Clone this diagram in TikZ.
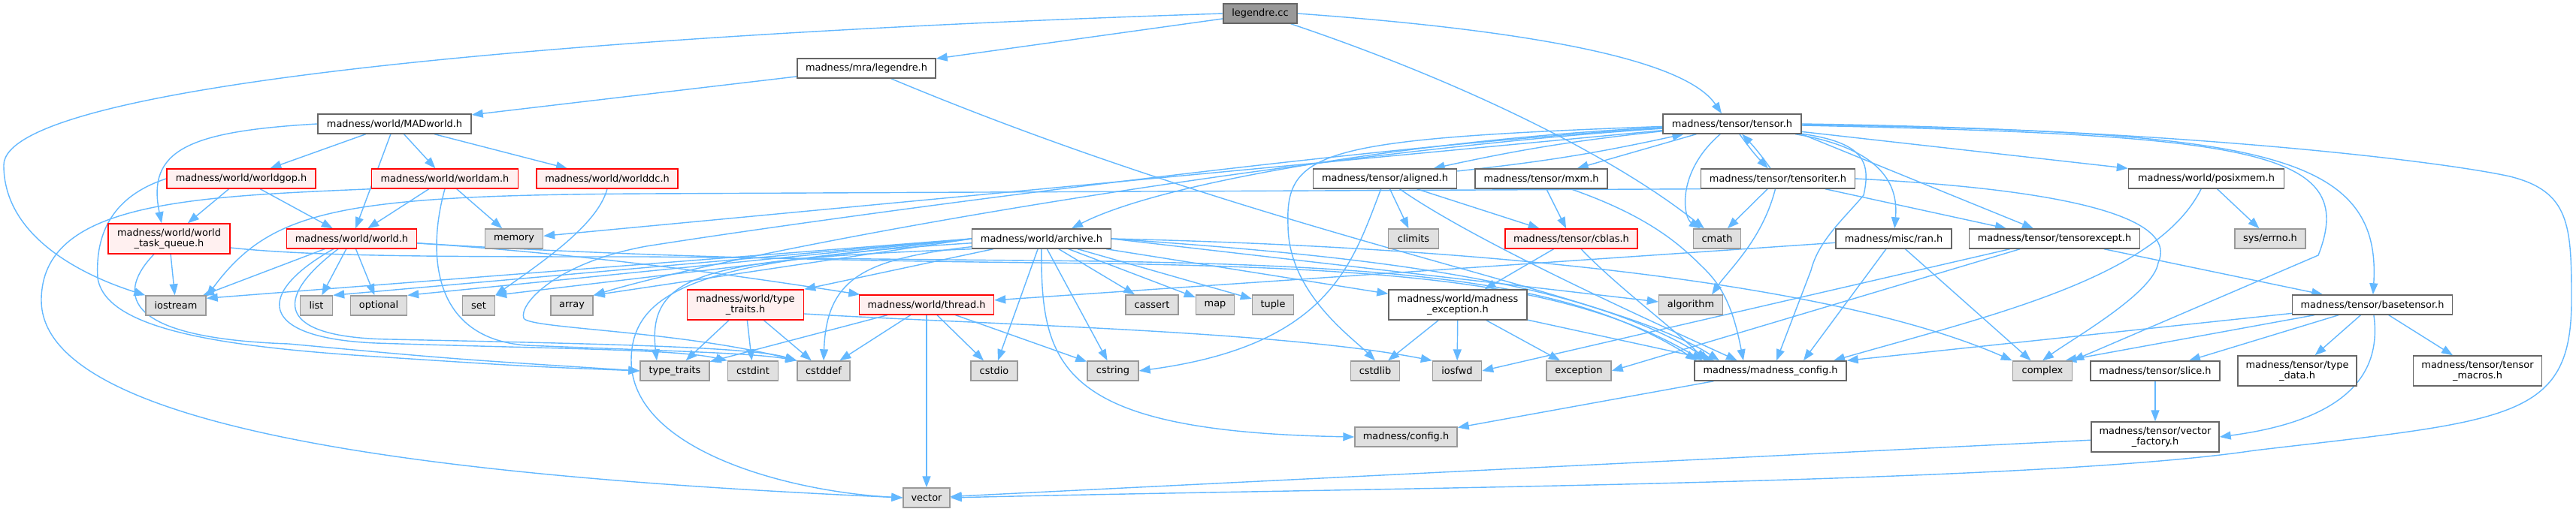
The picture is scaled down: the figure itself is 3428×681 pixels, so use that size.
\documentclass[tikz,border=0pt]{standalone}
\usepackage{fontspec}
\newfontfamily\nf{DejaVu Sans}
\usetikzlibrary{arrows.meta}
\definecolor{edgec}{HTML}{63B8FF}
\definecolor{gfill}{HTML}{E0E0E0}
\definecolor{gline}{HTML}{999999}
\definecolor{wline}{HTML}{666666}
\definecolor{rfill}{HTML}{FFF0F0}
\definecolor{rline}{HTML}{FF0000}
\definecolor{dfill}{HTML}{999999}
\pgfdeclarelayer{bg}
\pgfsetlayers{bg,main}
\begin{document}
\begin{tikzpicture}[x=0.5pt,y=-0.5pt,
  nbox/.style={rectangle, inner sep=0pt, minimum height=13pt, line width=0.7pt, align=center, font=\nf\fontsize{6.45}{7.2}\selectfont},
  wb/.style={nbox, draw=wline, fill=white},
  gb/.style={nbox, draw=gline, fill=gfill},
  rb/.style={nbox, draw=rline, fill=rfill},
  db/.style={nbox, draw=wline, fill=dfill},
  twol/.style={minimum height=20pt},
  edg/.style={draw=edgec, line width=0.7pt, -{Triangle[length=7.5pt,width=5.5pt]}}
]
\useasboundingbox (0,0) rectangle (3428,681);
% nodes
\node[db, minimum width=49pt] (lcc) at (1677,18) {legendre.cc};
\node[wb, minimum width=92pt] (leg) at (1153,91) {madness/mra/legendre.h};
\node[wb, minimum width=102pt] (mad) at (525,165) {madness/world/MADworld.h};
\node[wb, minimum width=92pt] (ten) at (2305,165) {madness/tensor/tensor.h};
\node[rb, minimum width=99pt] (gop) at (321,238) {madness/world/worldgop.h};
\node[rb, minimum width=97.5pt] (wam) at (592,238) {madness/world/worldam.h};
\node[rb, minimum width=94pt] (wdc) at (808,238) {madness/world/worlddc.h};
\node[wb, minimum width=95.5pt] (ali) at (1843,238) {madness/tensor/aligned.h};
\node[wb, minimum width=88pt] (mxm) at (2051,238) {madness/tensor/mxm.h};
\node[wb, minimum width=102.5pt] (tit) at (2366,238) {madness/tensor/tensoriter.h};
\node[wb, minimum width=103.5pt] (pmem) at (2936,238) {madness/world/posixmem.h};
\node[rb, twol, minimum width=81pt] (wtq) at (225,318) {madness/world/world\\\_task\_queue.h};
\node[rb, minimum width=86.5pt] (wld) at (468,318) {madness/world/world.h};
\node[gb, minimum width=38.5pt] (mem) at (684,318) {memory};
\node[wb, minimum width=92.5pt] (arc) at (1386,318) {madness/world/archive.h};
\node[gb, minimum width=33.5pt] (clim) at (1881,318) {climits};
\node[rb, minimum width=88pt] (cbl) at (2091,318) {madness/tensor/cblas.h};
\node[gb, minimum width=31.5pt] (cmath) at (2285,318) {cmath};
\node[wb, minimum width=77pt] (ran) at (2520,318) {madness/misc/ran.h};
\node[wb, minimum width=113.5pt] (tex) at (2734,318) {madness/tensor/tensorexcept.h};
\node[gb, minimum width=47pt] (errno) at (3021,318) {sys/errno.h};
\node[gb, minimum width=40pt] (ios) at (234,407) {iostream};
\node[gb, minimum width=21.5pt] (list) at (421,407) {list};
\node[gb, minimum width=37.5pt] (opt) at (504,407) {optional};
\node[gb, minimum width=21.5pt] (set) at (637,407) {set};
\node[gb, minimum width=28pt] (arr) at (761,407) {array};
\node[rb, twol, minimum width=77.5pt] (tth) at (992,406) {madness/world/type\\\_traits.h};
\node[rb, minimum width=89.5pt] (thr) at (1233,406) {madness/world/thread.h};
\node[gb, minimum width=35pt] (cass) at (1533,406) {cassert};
\node[gb, minimum width=25.5pt] (map) at (1617,406) {map};
\node[gb, minimum width=27.5pt] (tup) at (1694,406) {tuple};
\node[wb, twol, minimum width=92pt] (mex) at (1940,406) {madness/world/madness\\\_exception.h};
\node[gb, minimum width=42.5pt] (alg) at (2250,406) {algorithm};
\node[wb, minimum width=106.5pt] (bt) at (3157,406) {madness/tensor/basetensor.h};
\node[gb, minimum width=46pt] (tt) at (898,494) {type\_traits};
\node[gb, minimum width=33.5pt] (cint) at (1002,494) {cstdint};
\node[gb, minimum width=35pt] (cdef) at (1096,494) {cstddef};
\node[gb, minimum width=31pt] (cio) at (1323,494) {cstdio};
\node[gb, minimum width=34pt] (cstr) at (1481,494) {cstring};
\node[gb, minimum width=32.5pt] (clib) at (1830,494) {cstdlib};
\node[gb, minimum width=32.5pt] (iosf) at (1939,494) {iosfwd};
\node[gb, minimum width=43pt] (exc) at (2101,494) {exception};
\node[wb, minimum width=101pt] (mcf) at (2356,494) {madness/madness\_config.h};
\node[gb, minimum width=39.5pt] (cpx) at (2718,494) {complex};
\node[wb, minimum width=86pt] (sli) at (2868,494) {madness/tensor/slice.h};
\node[wb, twol, minimum width=79pt] (tdat) at (3057,494) {madness/tensor/type\\\_data.h};
\node[wb, twol, minimum width=85.5pt] (tmac) at (3297,494) {madness/tensor/tensor\\\_macros.h};
\node[gb, minimum width=68pt] (cfg) at (1871,582) {madness/config.h};
\node[wb, twol, minimum width=85pt] (vf) at (2868,582) {madness/tensor/vector\\\_factory.h};
\node[gb, minimum width=31pt] (vec) at (1233,663) {vector};
% edges
\begin{pgfonlayer}{bg}
\fill[white] (0,0) rectangle (3428,681);
% legendre.cc
\draw[edg] (lcc) -- (leg);
\draw[edg] (lcc.east) .. controls (2100,45) and (2250,90) .. ([xshift=-7pt]ten.north);
\draw[edg] (lcc) .. controls (1950,110) and (2150,210) .. (cmath);
\draw[edg] (lcc.west) .. controls (800,45) and (5,110) .. (5,220) .. controls (5,320) and (120,370) .. (ios.north west);
% legendre.h
\draw[edg] (leg) -- (mad);
\draw[edg] (leg) .. controls (1700,320) and (2150,390) .. ([xshift=-34pt]mcf.north);
% MADworld
\draw[edg] (mad) -- (gop);
\draw[edg] (mad) -- (wam);
\draw[edg] (mad) -- (wdc);
\draw[edg] (mad) -- (wld);
\draw[edg] (mad.west) .. controls (250,175) and (195,200) .. ([xshift=-5pt]wtq.north);
% worldgop
\draw[edg] (gop) -- (wtq);
\draw[edg] (gop) -- (wld);
\draw[edg] (gop.west) .. controls (160,258) and (126,300) .. (130,370) .. controls (140,440) and (300,462) .. (500,475) .. controls (700,488) .. (tt.west);
% worldam
\draw[edg] (wam) -- (wld);
\draw[edg] (wam) -- (mem);
\draw[edg] (wam.south) .. controls (570,330) and (570,450) .. (700,460) .. controls (900,468) and (1000,470) .. (cdef.north west);
\draw[edg] (wam.south west) .. controls (250,262) and (55,270) .. (55,400) .. controls (55,590) and (700,640) .. (vec.west);
% worlddc
\draw[edg] (wdc.south) .. controls (795,300) and (720,350) .. (set.north east);
% world_task_queue
\draw[edg] (wtq) -- (ios);
\draw[edg] (wtq) .. controls (160,385) and (150,450) .. (384,458) .. controls (600,478) .. (tt.west);
\draw[edg] ([yshift=-6pt]wtq.east) .. controls (420,342) and (600,342) .. (860,342) -- (1470,348) .. controls (1900,355) and (2100,380) .. ([xshift=-49pt]mcf.north);
% world.h
\draw[edg] (wld) -- (ios);
\draw[edg] (wld) -- (list);
\draw[edg] (wld) -- (opt);
\draw[edg] (wld) .. controls (340,390) and (340,450) .. (500,457) .. controls (750,465) and (900,465) .. (cint.north west);
\draw[edg] (wld) .. controls (360,400) and (370,450) .. (520,452) .. controls (800,458) and (1000,462) .. (cdef.north west);
\draw[edg] (wld) .. controls (800,340) and (1000,370) .. (thr);
\draw[edg] ([yshift=-3pt]wld.east) .. controls (900,345) and (1200,348) .. (1470,351) .. controls (1900,358) and (2100,383) .. ([xshift=-45pt]mcf.north);
% archive.h
\draw[edg] (arc.west) -- ([yshift=-2pt]ios.north east);
\draw[edg] (arc.west) -- (list.north east);
\draw[edg] (arc.west) -- (opt.north east);
\draw[edg] (arc.west) -- (set.north east);
\draw[edg] (arc.west) -- (arr.north east);
\draw[edg] (arc) -- (tth.north east);
\draw[edg] (arc.south west) .. controls (950,345) and (860,360) .. ([xshift=-12pt]tt.north);
\draw[edg] (arc) .. controls (1150,345) and (1100,370) .. (cdef.north);
\draw[edg] (arc) -- (cio);
\draw[edg] (arc) -- (cstr);
\draw[edg] (arc) -- (cass);
\draw[edg] (arc) -- (map);
\draw[edg] (arc) -- (tup);
\draw[edg] (arc) .. controls (1385,490) and (1410,575) .. (cfg.west);
\draw[edg] (arc) .. controls (950,345) and (840,380) .. (840,480) .. controls (840,600) and (1050,655) .. (vec.west);
\draw[edg] (arc) -- (mex);
\draw[edg] (arc.east) -- ([yshift=2pt]alg.west);
\draw[edg] (arc.east) .. controls (1800,340) and (2100,370) .. ([xshift=-40pt]mcf.north);
\draw[edg] (arc.east) .. controls (2000,330) and (2450,380) .. (cpx.north west);
% type_traits.h
\draw[edg] (tth) -- (tt);
\draw[edg] (tth) -- (cint);
\draw[edg] (tth) -- (cdef);
\draw[edg] ([yshift=-6pt]tth.east) .. controls (1300,432) and (1700,440) .. (iosf.north west);
% thread.h
\draw[edg] (thr) -- (tt);
\draw[edg] (thr) -- (cdef);
\draw[edg] (thr) -- (vec);
\draw[edg] (thr) -- (cio);
\draw[edg] (thr) -- (cstr);
% tensor.h
\draw[edg] (ten) to[bend right=3] (ali);
\draw[edg] (ten) -- (mxm);
\draw[edg] (ten) to[bend right=4] (tit);
\draw[edg] (ten) .. controls (1900,185) and (1550,240) .. ([xshift=20pt]arc.north);
\draw[edg] (ten) -- (mem);
\draw[edg] (ten) .. controls (1800,195) and (1100,290) .. (860,328) .. controls (740,350) and (690,405) .. (697,424) .. controls (705,438) and (900,440) .. (cdef.north west);
\draw[edg] (ten) .. controls (1700,205) and (1000,330) .. (arr.north east);
\draw[edg] (ten) .. controls (1760,185) and (1710,200) .. (1714,300) .. controls (1714,390) and (1800,450) .. (clib.north);
\draw[edg] (ten) .. controls (2230,230) and (2240,290) .. (cmath);
\draw[edg] (ten) .. controls (2520,200) and (2525,260) .. (ran);
\draw[edg] (ten) .. controls (2480,190) and (2490,215) .. (2480,260) .. controls (2455,290) and (2420,320) .. (2410,360) -- ([xshift=4pt]mcf.north);
\draw[edg] (ten) -- (pmem.north west);
\draw[edg] (ten.south east) -- ([xshift=-14pt]tex.north);
\draw[edg] (ten) .. controls (3000,175) and (3170,200) .. (bt);
\draw[edg] (ten) .. controls (3000,180) and (3140,200) .. (3085,340) -- (cpx.north east);
\draw[edg] (ten.east) .. controls (2900,172) and (3250,215) .. (3340,235) .. controls (3420,255) and (3422,300) .. (3422,400) .. controls (3422,560) and (3340,560) .. (3000,600) .. controls (2700,645) and (1800,650) .. (vec.east);
% aligned.h
\draw[edg] (ali) to[bend right=3] (ten);
\draw[edg] (ali) -- (clim);
\draw[edg] (ali) -- (cbl);
\draw[edg] (ali) .. controls (1800,350) and (1770,460) .. (cstr.east);
\draw[edg] (ali) .. controls (1960,320) and (2180,420) .. ([xshift=-22pt]mcf.north);
% mxm.h
\draw[edg] (mxm) -- (cbl);
\draw[edg] (mxm) .. controls (2200,290) and (2240,330) .. (2270,360) .. controls (2300,390) and (2310,430) .. ([xshift=-18pt]mcf.north);
% tensoriter.h
\draw[edg] (tit) to[bend right=4] (ten);
\draw[edg] (tit) -- (cmath);
\draw[edg] (tit) .. controls (2345,320) and (2300,360) .. ([xshift=14pt]alg.north);
\draw[edg] (tit.south west) -- (860,258) .. controls (450,260) and (360,280) .. ([yshift=-1pt]ios.north east);
\draw[edg] (tit) -- ([xshift=-32pt]tex.north);
\draw[edg] (tit.east) .. controls (2800,255) and (2895,300) .. (2872,350) .. controls (2866,390) and (2760,450) .. (cpx.north);
% cblas.h
\draw[edg] (cbl) -- (mex);
\draw[edg] (cbl) .. controls (2150,380) and (2230,440) .. ([xshift=-43pt]mcf.north);
% ran.h
\draw[edg] (ran) -- (thr);
\draw[edg] (ran) -- ([xshift=22pt]mcf.north);
\draw[edg] (ran) -- (cpx);
% posixmem.h
\draw[edg] (pmem) -- (errno);
\draw[edg] (pmem) .. controls (2870,370) and (2650,420) .. ([xshift=42pt]mcf.north);
% tensorexcept.h
\draw[edg] (tex) -- (iosf.east);
\draw[edg] (tex) -- (exc.east);
\draw[edg] (tex) -- (bt);
% madness_exception.h
\draw[edg] (mex) -- (clib);
\draw[edg] (mex) -- (iosf);
\draw[edg] (mex) -- (exc);
\draw[edg] (mex) -- ([xshift=-37pt]mcf.north);
% madness_config.h
\draw[edg] (mcf) -- (cfg);
% basetensor.h
\draw[edg] (bt) -- (mcf.north east);
\draw[edg] ([xshift=15pt]bt.south west) -- ([xshift=-5pt]cpx.north east);
\draw[edg] (bt) -- (sli);
\draw[edg] (bt) -- (tdat);
\draw[edg] (bt) -- (tmac);
\draw[edg] (bt) .. controls (3170,500) and (3120,560) .. (vf.east);
% slice.h, vector_factory.h
\draw[edg] (sli) -- (vf);
\draw[edg] (vf) -- (vec);
\end{pgfonlayer}
\end{tikzpicture}
\end{document}
